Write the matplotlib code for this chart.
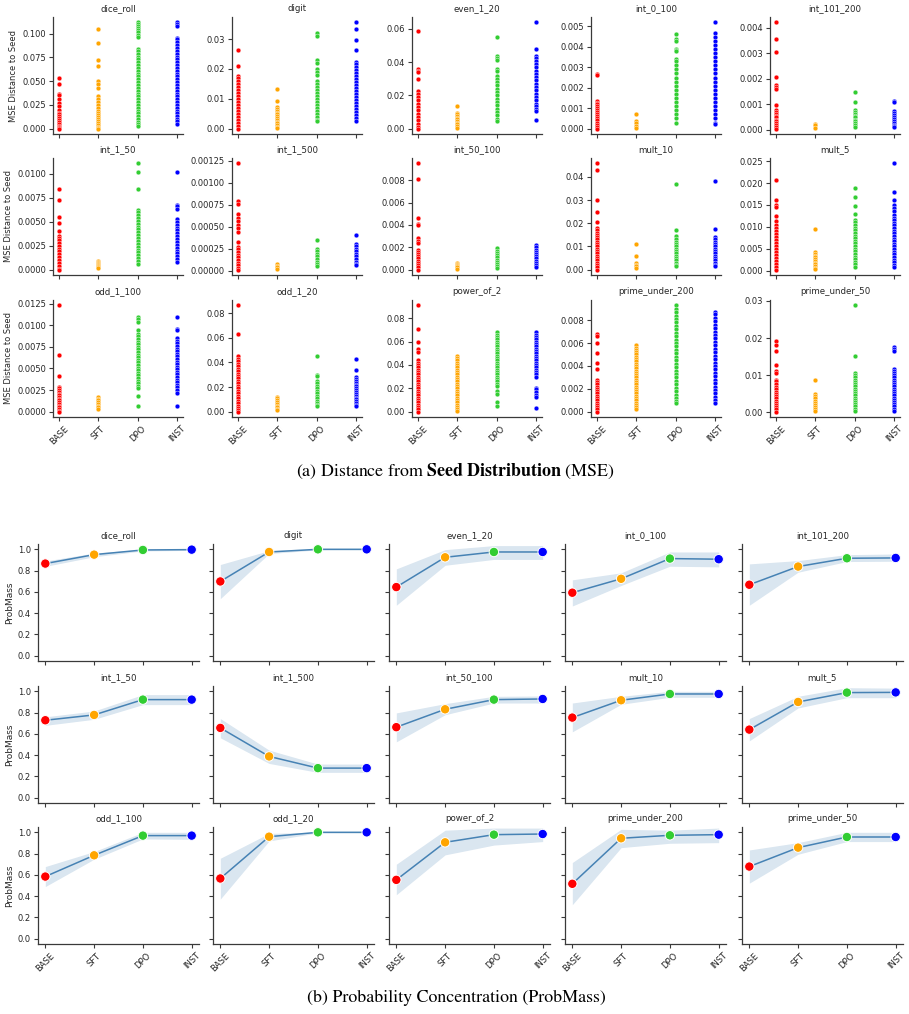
import matplotlib
matplotlib.use("Agg")
import matplotlib.pyplot as plt
from matplotlib.ticker import MaxNLocator
import numpy as np

# ---------------- data ----------------
models = ["BASE", "SFT", "DPO", "INST"]
model_colors = ["red", "orange", "limegreen", "blue"]
tasks = ["dice_roll", "digit", "even_1_20", "int_0_100", "int_101_200",
         "int_1_50", "int_1_500", "int_50_100", "mult_10", "mult_5",
         "odd_1_100", "odd_1_20", "power_of_2", "prime_under_200", "prime_under_50"]

# MSE distance to seed: [BASE, SFT, DPO, INST] per task
mse_dice_roll = [
    [0.053, 0.047, 0.037, 0.035, 0.031, 0.027, 0.024, 0.020, 0.017, 0.015, 0.013, 0.011, 0.009, 0.007, 0.005, 0.003, 0.002, 0.001, 0.0],
    [0.105, 0.090, 0.072, 0.066, 0.050, 0.047, 0.043, 0.034, 0.031, 0.028, 0.025, 0.022, 0.019, 0.016, 0.014, 0.012, 0.010, 0.008, 0.006, 0.004, 0.002, 0.001, 0.0],
    [0.112, 0.110, 0.108, 0.106, 0.104, 0.102, 0.099, 0.097, 0.084, 0.082, 0.079, 0.076, 0.073, 0.070, 0.067, 0.064, 0.061, 0.058, 0.055, 0.052, 0.049, 0.046, 0.043, 0.040, 0.037, 0.034, 0.031, 0.028, 0.025, 0.022, 0.019, 0.016, 0.013, 0.010, 0.007, 0.005, 0.003],
    [0.112, 0.110, 0.108, 0.096, 0.094, 0.091, 0.088, 0.085, 0.082, 0.079, 0.076, 0.073, 0.070, 0.067, 0.064, 0.061, 0.058, 0.055, 0.052, 0.049, 0.046, 0.043, 0.040, 0.037, 0.034, 0.031, 0.028, 0.025, 0.022, 0.019, 0.016, 0.013, 0.010, 0.008, 0.005],
]
mse_digit = [
    [0.0265, 0.021, 0.0175, 0.017, 0.016, 0.015, 0.014, 0.013, 0.012, 0.011, 0.010, 0.009, 0.008, 0.007, 0.006, 0.005, 0.004, 0.003, 0.002, 0.001, 0.0],
    [0.0132, 0.0092, 0.0073, 0.0066, 0.006, 0.0054, 0.0048, 0.0042, 0.0036, 0.003, 0.0024, 0.0018, 0.0012, 0.0006, 0.0003],
    [0.032, 0.031, 0.023, 0.022, 0.020, 0.019, 0.018, 0.016, 0.015, 0.014, 0.013, 0.012, 0.011, 0.010, 0.009, 0.008, 0.007, 0.006, 0.005, 0.004, 0.003, 0.0025],
    [0.0356, 0.0334, 0.0298, 0.0262, 0.0224, 0.0215, 0.0205, 0.0195, 0.0185, 0.0175, 0.0165, 0.0155, 0.0145, 0.0135, 0.0125, 0.0115, 0.0105, 0.0095, 0.0085, 0.0075, 0.0065, 0.0055, 0.0045, 0.0035, 0.0025],
]
mse_even_1_20 = [
    [0.059, 0.036, 0.035, 0.034, 0.030, 0.0225, 0.021, 0.019, 0.017, 0.015, 0.013, 0.011, 0.009, 0.007, 0.005, 0.003, 0.001, 0.0],
    [0.0136, 0.0096, 0.0086, 0.0076, 0.0066, 0.0056, 0.0046, 0.0036, 0.0026, 0.0016, 0.0006],
    [0.055, 0.0436, 0.0425, 0.0415, 0.036, 0.035, 0.0316, 0.030, 0.028, 0.026, 0.024, 0.022, 0.020, 0.018, 0.016, 0.014, 0.012, 0.010, 0.008, 0.006, 0.0046],
    [0.064, 0.048, 0.044, 0.0425, 0.041, 0.039, 0.037, 0.035, 0.033, 0.031, 0.029, 0.027, 0.025, 0.023, 0.021, 0.019, 0.017, 0.015, 0.0135, 0.012, 0.0105, 0.0052],
]
mse_int_0_100 = [
    [0.00265, 0.0026, 0.00135, 0.00127, 0.0012, 0.0011, 0.001, 0.0009, 0.0008, 0.0007, 0.0006, 0.0005, 0.0004, 0.0003, 0.0002, 0.0001, 0.0],
    [0.00073, 0.00037, 0.00027, 0.00015, 0.00005],
    [0.00464, 0.0044, 0.0043, 0.0039, 0.00385, 0.0038, 0.0034, 0.0033, 0.0031, 0.0029, 0.0027, 0.0025, 0.0023, 0.0021, 0.0019, 0.0017, 0.0015, 0.0013, 0.0011, 0.0009, 0.0007, 0.0005, 0.0003],
    [0.0052, 0.0047, 0.0045, 0.0043, 0.0041, 0.0039, 0.0037, 0.0035, 0.0033, 0.0031, 0.0029, 0.0027, 0.0025, 0.0023, 0.0021, 0.0019, 0.0017, 0.0015, 0.0013, 0.0011, 0.0009, 0.0007, 0.0005, 0.0003, 0.00025],
]
mse_int_101_200 = [
    [0.00422, 0.00358, 0.00305, 0.00209, 0.00176, 0.00169, 0.0016, 0.00096, 0.00077, 0.0007, 0.00063, 0.00055, 0.00048, 0.0004, 0.00033, 0.00025, 0.00018, 0.0001, 0.00004],
    [0.00021, 0.00018, 0.00008],
    [0.0015, 0.0011, 0.00079, 0.0007, 0.00062, 0.00055, 0.00048, 0.0004, 0.00033, 0.00025, 0.00018, 0.0001],
    [0.00114, 0.00107, 0.00073, 0.00066, 0.00058, 0.0005, 0.00043, 0.00035, 0.00028, 0.0002, 0.00013, 0.0001],
]
mse_int_1_50 = [
    [0.0084, 0.0073, 0.0055, 0.0049, 0.0040, 0.0035, 0.0033, 0.0031, 0.0028, 0.0025, 0.0022, 0.0019, 0.0016, 0.0013, 0.0010, 0.0007, 0.0004, 0.0001, 0.0],
    [0.0009, 0.0008, 0.0007, 0.0006, 0.0005, 0.0004, 0.0003, 0.0002],
    [0.0111, 0.0102, 0.0084, 0.0062, 0.0060, 0.0057, 0.0054, 0.0051, 0.0048, 0.0045, 0.0042, 0.0039, 0.0036, 0.0033, 0.0030, 0.0027, 0.0024, 0.0021, 0.0018, 0.0015, 0.0012, 0.0009, 0.0006],
    [0.0102, 0.0068, 0.0066, 0.0063, 0.0053, 0.0050, 0.0047, 0.0044, 0.0041, 0.0038, 0.0035, 0.0032, 0.0029, 0.0026, 0.0023, 0.0020, 0.0017, 0.0014, 0.0011, 0.0008],
]
mse_int_1_500 = [
    [0.00122, 0.00079, 0.00076, 0.00064, 0.0006, 0.00056, 0.00052, 0.00048, 0.00044, 0.00033, 0.00027, 0.00024, 0.00021, 0.00018, 0.00015, 0.00012, 0.00009, 0.00006, 0.00003, 0.00001],
    [0.00007, 0.00005, 0.00004, 0.00002],
    [0.00035, 0.00025, 0.00022, 0.00019, 0.00016, 0.00013, 0.0001, 0.00007, 0.00005],
    [0.0004, 0.0003, 0.00028, 0.00025, 0.00022, 0.00019, 0.00016, 0.00013, 0.0001, 0.00007, 0.00006],
]
mse_int_50_100 = [
    [0.0095, 0.0081, 0.0046, 0.0041, 0.0040, 0.0028, 0.0026, 0.0024, 0.0018, 0.0016, 0.0014, 0.0012, 0.0010, 0.0008, 0.0006, 0.0004, 0.0002, 0.0],
    [0.0006, 0.0005, 0.0004, 0.0003, 0.0002, 0.0001],
    [0.0019, 0.0017, 0.0015, 0.0013, 0.0011, 0.0009, 0.0007, 0.0005, 0.0003, 0.00015],
    [0.0022, 0.0020, 0.0018, 0.0016, 0.0014, 0.0012, 0.0010, 0.0008, 0.0006, 0.0004, 0.00025],
]
mse_mult_10 = [
    [0.0458, 0.0429, 0.0298, 0.0247, 0.0206, 0.018, 0.017, 0.016, 0.015, 0.014, 0.013, 0.012, 0.011, 0.010, 0.009, 0.008, 0.007, 0.006, 0.005, 0.004, 0.003, 0.002, 0.001, 0.0],
    [0.0111, 0.0058, 0.0029, 0.0022, 0.0014, 0.0007],
    [0.037, 0.017, 0.0145, 0.013, 0.012, 0.011, 0.010, 0.009, 0.008, 0.007, 0.006, 0.005, 0.004, 0.003, 0.002, 0.0015],
    [0.038, 0.0176, 0.0141, 0.013, 0.012, 0.011, 0.010, 0.009, 0.008, 0.007, 0.006, 0.005, 0.004, 0.003, 0.002, 0.0015],
]
mse_mult_5 = [
    [0.0208, 0.0162, 0.0150, 0.0146, 0.0125, 0.0113, 0.0105, 0.0098, 0.0091, 0.0084, 0.0077, 0.0070, 0.0063, 0.0056, 0.0049, 0.0042, 0.0035, 0.0028, 0.0021, 0.0014, 0.0007, 0.0002],
    [0.0094, 0.0042, 0.0038, 0.0034, 0.0030, 0.0026, 0.0022, 0.0018, 0.0014, 0.0010, 0.0006, 0.0003],
    [0.0188, 0.0169, 0.0148, 0.0129, 0.0115, 0.0110, 0.0104, 0.0098, 0.0092, 0.0086, 0.0080, 0.0074, 0.0068, 0.0062, 0.0056, 0.0050, 0.0044, 0.0038, 0.0032, 0.0026, 0.0020, 0.0014, 0.0009],
    [0.0245, 0.018, 0.0161, 0.015, 0.0142, 0.0135, 0.0127, 0.0121, 0.0115, 0.0109, 0.0103, 0.0097, 0.0091, 0.0085, 0.0079, 0.0073, 0.0067, 0.0061, 0.0055, 0.0049, 0.0043, 0.0037, 0.0031, 0.0025, 0.0019, 0.0013, 0.0009],
]
mse_odd_1_100 = [
    [0.0123, 0.0065, 0.0041, 0.0029, 0.0027, 0.0025, 0.0023, 0.0021, 0.0019, 0.0017, 0.0015, 0.0013, 0.0011, 0.0009, 0.0007, 0.0005, 0.0003, 0.0001, 0.0],
    [0.0017, 0.0015, 0.0013, 0.0011, 0.0009, 0.0007, 0.0005, 0.0003],
    [0.011, 0.0107, 0.0104, 0.0095, 0.0090, 0.0087, 0.0084, 0.0081, 0.0078, 0.0075, 0.0072, 0.0069, 0.0066, 0.0063, 0.0060, 0.0057, 0.0054, 0.0051, 0.0048, 0.0045, 0.0042, 0.0039, 0.0036, 0.0033, 0.0030, 0.0027, 0.0018, 0.0006],
    [0.011, 0.0096, 0.0094, 0.0085, 0.0082, 0.0079, 0.0076, 0.0073, 0.0070, 0.0067, 0.0064, 0.0061, 0.0058, 0.0055, 0.0052, 0.0049, 0.0046, 0.0043, 0.0040, 0.0037, 0.0034, 0.0031, 0.0028, 0.0025, 0.0022, 0.0006],
]
mse_odd_1_20 = [
    [0.0865, 0.063, 0.0454, 0.043, 0.041, 0.039, 0.037, 0.035, 0.033, 0.031, 0.029, 0.027, 0.025, 0.023, 0.021, 0.019, 0.017, 0.015, 0.013, 0.011, 0.009, 0.007, 0.005, 0.003, 0.001, 0.0],
    [0.012, 0.011, 0.0095, 0.008, 0.0065, 0.005, 0.0035, 0.002, 0.001],
    [0.0454, 0.030, 0.0287, 0.0246, 0.023, 0.021, 0.019, 0.017, 0.015, 0.013, 0.011, 0.009, 0.007, 0.0055, 0.0043],
    [0.0427, 0.034, 0.028, 0.0265, 0.025, 0.0235, 0.022, 0.0205, 0.019, 0.0175, 0.016, 0.0145, 0.013, 0.0115, 0.010, 0.0085, 0.007, 0.0055, 0.0045],
]
mse_power_of_2 = [
    [0.0911, 0.0712, 0.0595, 0.0535, 0.0507, 0.044, 0.042, 0.040, 0.038, 0.036, 0.034, 0.032, 0.030, 0.028, 0.026, 0.024, 0.022, 0.020, 0.018, 0.016, 0.014, 0.012, 0.010, 0.008, 0.006, 0.004, 0.002, 0.0],
    [0.0478, 0.046, 0.044, 0.042, 0.040, 0.038, 0.036, 0.034, 0.032, 0.030, 0.028, 0.026, 0.024, 0.022, 0.020, 0.018, 0.016, 0.014, 0.012, 0.010, 0.008, 0.006, 0.004, 0.002, 0.001],
    [0.068, 0.066, 0.064, 0.062, 0.060, 0.058, 0.056, 0.054, 0.052, 0.050, 0.048, 0.046, 0.044, 0.042, 0.040, 0.038, 0.036, 0.034, 0.032, 0.030, 0.028, 0.026, 0.024, 0.022, 0.018, 0.0155, 0.0085, 0.0045],
    [0.0686, 0.066, 0.064, 0.062, 0.060, 0.058, 0.056, 0.054, 0.052, 0.050, 0.048, 0.046, 0.044, 0.042, 0.040, 0.038, 0.036, 0.034, 0.032, 0.030, 0.0205, 0.019, 0.0165, 0.0145, 0.0125, 0.003],
]
mse_prime_under_200 = [
    [0.0068, 0.0066, 0.0060, 0.0051, 0.0043, 0.0037, 0.0028, 0.0026, 0.0024, 0.0022, 0.0020, 0.0018, 0.0016, 0.0014, 0.0012, 0.0010, 0.0008, 0.0006, 0.0004, 0.0002, 0.0],
    [0.0058, 0.0056, 0.0054, 0.0052, 0.0050, 0.0048, 0.0046, 0.0044, 0.0042, 0.0040, 0.0038, 0.0036, 0.0034, 0.0032, 0.0030, 0.0028, 0.0026, 0.0024, 0.0022, 0.0020, 0.0018, 0.0016, 0.0014, 0.0012, 0.0010, 0.0008, 0.0006, 0.0004, 0.0002],
    [0.0093, 0.0090, 0.0087, 0.0084, 0.0081, 0.0078, 0.0075, 0.0072, 0.0069, 0.0066, 0.0063, 0.0060, 0.0057, 0.0054, 0.0051, 0.0048, 0.0045, 0.0042, 0.0039, 0.0036, 0.0033, 0.0030, 0.0027, 0.0024, 0.0021, 0.0018, 0.0015, 0.0012, 0.0009, 0.0008],
    [0.0087, 0.0085, 0.0082, 0.0079, 0.0076, 0.0073, 0.0070, 0.0067, 0.0064, 0.0061, 0.0058, 0.0055, 0.0052, 0.0049, 0.0046, 0.0043, 0.0040, 0.0037, 0.0034, 0.0031, 0.0028, 0.0025, 0.0022, 0.0019, 0.0016, 0.0013, 0.0010, 0.0008],
]
mse_prime_under_50 = [
    [0.0192, 0.018, 0.0165, 0.0128, 0.0111, 0.0106, 0.0088, 0.0084, 0.0077, 0.0068, 0.0062, 0.0056, 0.0050, 0.0044, 0.0038, 0.0032, 0.0026, 0.0020, 0.0014, 0.0008, 0.0002],
    [0.0087, 0.0050, 0.0044, 0.0038, 0.0032, 0.0026, 0.0020, 0.0014, 0.0008, 0.0003],
    [0.0288, 0.0153, 0.0106, 0.0100, 0.0094, 0.0088, 0.0082, 0.0076, 0.0070, 0.0064, 0.0058, 0.0052, 0.0046, 0.0040, 0.0034, 0.0028, 0.0022, 0.0016, 0.0010, 0.0004],
    [0.0176, 0.0170, 0.0166, 0.0118, 0.0112, 0.0106, 0.0100, 0.0094, 0.0088, 0.0082, 0.0076, 0.0070, 0.0064, 0.0058, 0.0052, 0.0046, 0.0040, 0.0034, 0.0028, 0.0022, 0.0016, 0.0010, 0.0004],
]

# ProbMass (mean and CI band), per model, tasks in the order of `tasks`
prob_mean_base = [0.866, 0.698, 0.645, 0.592, 0.667, 0.728, 0.656, 0.663, 0.753, 0.640, 0.584, 0.566, 0.553, 0.516, 0.678]
prob_lo_base   = [0.840, 0.536, 0.474, 0.467, 0.474, 0.680, 0.563, 0.525, 0.619, 0.534, 0.490, 0.372, 0.413, 0.319, 0.522]
prob_hi_base   = [0.890, 0.857, 0.816, 0.713, 0.863, 0.760, 0.744, 0.797, 0.890, 0.744, 0.678, 0.756, 0.700, 0.716, 0.834]
prob_mean_sft  = [0.950, 0.975, 0.925, 0.723, 0.838, 0.778, 0.388, 0.831, 0.916, 0.900, 0.784, 0.959, 0.906, 0.944, 0.856]
prob_lo_sft    = [0.930, 0.960, 0.850, 0.660, 0.785, 0.737, 0.322, 0.780, 0.878, 0.844, 0.747, 0.919, 0.788, 0.856, 0.794]
prob_hi_sft    = [0.965, 0.988, 0.997, 0.779, 0.894, 0.815, 0.447, 0.884, 0.953, 0.953, 0.819, 0.990, 1.020, 1.028, 0.903]
prob_mean_dpo  = [0.994, 1.000, 0.975, 0.913, 0.916, 0.922, 0.278, 0.922, 0.975, 0.988, 0.969, 1.000, 0.978, 0.972, 0.956]
prob_lo_dpo    = [0.985, 0.995, 0.905, 0.841, 0.885, 0.875, 0.238, 0.890, 0.944, 0.940, 0.938, 0.995, 0.880, 0.897, 0.913]
prob_hi_dpo    = [1.000, 1.000, 1.035, 0.975, 0.950, 0.969, 0.316, 0.953, 1.000, 1.034, 1.000, 1.000, 1.040, 1.020, 1.000]
prob_mean_inst = [0.997, 1.000, 0.975, 0.907, 0.919, 0.922, 0.278, 0.928, 0.975, 0.990, 0.969, 1.000, 0.984, 0.978, 0.956]
prob_lo_inst   = [0.990, 0.995, 0.905, 0.835, 0.888, 0.875, 0.238, 0.890, 0.944, 0.940, 0.934, 0.995, 0.913, 0.903, 0.913]
prob_hi_inst   = [1.000, 1.000, 1.035, 0.975, 0.956, 0.969, 0.316, 0.956, 1.000, 1.030, 1.000, 1.000, 1.040, 1.040, 1.000]

mse_by_task = {
    "dice_roll": mse_dice_roll, "digit": mse_digit, "even_1_20": mse_even_1_20,
    "int_0_100": mse_int_0_100, "int_101_200": mse_int_101_200,
    "int_1_50": mse_int_1_50, "int_1_500": mse_int_1_500, "int_50_100": mse_int_50_100,
    "mult_10": mse_mult_10, "mult_5": mse_mult_5, "odd_1_100": mse_odd_1_100,
    "odd_1_20": mse_odd_1_20, "power_of_2": mse_power_of_2,
    "prime_under_200": mse_prime_under_200, "prime_under_50": mse_prime_under_50,
}
prob_mean = np.array([prob_mean_base, prob_mean_sft, prob_mean_dpo, prob_mean_inst]).T
prob_lo = np.array([prob_lo_base, prob_lo_sft, prob_lo_dpo, prob_lo_inst]).T
prob_hi = np.array([prob_hi_base, prob_hi_sft, prob_hi_dpo, prob_hi_inst]).T

# ---------------- style / layout ----------------
plt.rcParams["font.family"] = ["DejaVu Sans"]
plt.rcParams["mathtext.fontset"] = "stix"
TXT = "#262626"
EDGE = "#3a3a3a"
W, H = 909, 1014
fig = plt.figure(figsize=(W / 100, H / 100), dpi=100)


def rect(l, t, w, h):
    return [l / W, 1 - (t + h) / H, w / W, h / H]


def style_axes(ax):
    for s in ("top", "right"):
        ax.spines[s].set_visible(False)
    for s in ("left", "bottom"):
        ax.spines[s].set_color(EDGE)
        ax.spines[s].set_linewidth(0.9)
    ax.tick_params(axis="both", labelsize=6, length=3, width=0.8,
                   color=EDGE, labelcolor=TXT, pad=2)
    ax.set_xlim(-0.15, 3.15)
    ax.set_xticks(range(len(models)))


x = np.arange(len(models))

top_left = [53, 232, 412, 591, 770]
top_rows = [17, 158, 300]
top_w, top_h = 130, 117
for k, task in enumerate(tasks):
    r, c = divmod(k, 5)
    ax = fig.add_axes(rect(top_left[c], top_rows[r], top_w, top_h))
    style_axes(ax)
    for i, vals in enumerate(mse_by_task[task]):
        ax.scatter(np.full(len(vals), x[i]), vals, s=12, c=model_colors[i],
                   edgecolors="white", linewidths=0.3, zorder=3)
    ax.yaxis.set_major_locator(MaxNLocator(nbins=6, steps=[1, 2, 2.5, 5, 10]))
    ax.set_title(task, fontsize=6.2, color=TXT, pad=4)
    if r == 2:
        ax.set_xticklabels(models, rotation=45)
    else:
        ax.set_xticklabels([])
    if c == 0:
        ax.set_ylabel("MSE Distance to Seed", fontsize=6, color=TXT, labelpad=3)

fig.text(455 / W, 1 - 471 / H,
         r"(a) Distance from $\mathbf{Seed\ Distribution}$ (MSE)",
         ha="center", va="center", fontsize=12.9, family="STIXGeneral", color="black")

bot_left = [38, 213, 389, 565, 742]
bot_rows = [544, 686, 827]
bot_w, bot_h = 161, 117
LINE = "#4682b4"
for k, task in enumerate(tasks):
    r, c = divmod(k, 5)
    ax = fig.add_axes(rect(bot_left[c], bot_rows[r], bot_w, bot_h))
    style_axes(ax)
    ax.fill_between(x, prob_lo[k], prob_hi[k], color=LINE, alpha=0.2, linewidth=0)
    ax.plot(x, prob_mean[k], color=LINE, linewidth=1.1, zorder=2)
    ax.scatter(x, prob_mean[k], s=46, c=model_colors, edgecolors="white",
               linewidths=0.7, zorder=3)
    ax.set_ylim(-0.05, 1.05)
    ax.set_yticks([0.0, 0.2, 0.4, 0.6, 0.8, 1.0])
    ax.set_title(task, fontsize=6.2, color=TXT, pad=4)
    if r == 2:
        ax.set_xticklabels(models, rotation=45)
    else:
        ax.set_xticklabels([])
    if c == 0:
        ax.set_ylabel("ProbMass", fontsize=6.5, color=TXT, labelpad=3)
    else:
        ax.set_yticklabels([])

fig.text(456 / W, 1 - 998 / H,
         "(b) Probability Concentration (ProbMass)",
         ha="center", va="center", fontsize=12.9, family="STIXGeneral", color="black")

fig.savefig("out.png", dpi=100)
